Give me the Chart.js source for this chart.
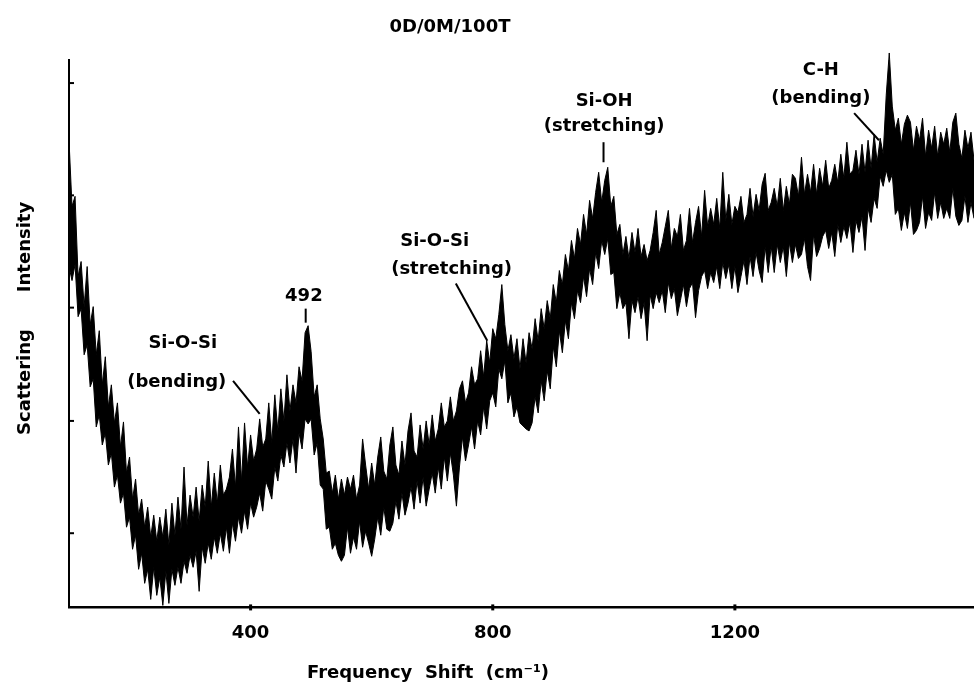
<!DOCTYPE html>
<html>
<head>
<meta charset="utf-8">
<script src="https://cdn.jsdelivr.net/npm/chart.js@4.4.1/dist/chart.umd.min.js"></script>
<style>
  html, body { margin: 0; padding: 0; background: #fff; }
  #contenedor { width: 974px; height: 691px; }
</style>
</head>
<body>
<div id="contenedor"><canvas id="espectro" width="974" height="691"></canvas></div>
<script>
// Espectro Raman de la muestra 0D/0M/100T
var desplazamientoInicio = 100; // cm-1
var pasoDesplazamiento = 5;     // cm-1 entre lecturas

// borde superior del ruido (unidades arbitrarias), una lectura cada 5 cm-1 desde 100
var maximo = [
  466, 400, 410, 330, 345, 300, 340, 282, 300, 252,
  276, 222, 250, 200, 222, 184, 204, 160, 185, 134,
  150, 108, 128, 92, 108, 80, 100, 70, 92, 66,
  90, 70, 98, 62, 104, 72, 110, 78, 140, 82,
  112, 90, 120, 86, 122, 100, 146, 100, 134, 104,
  142, 112, 118, 130, 158, 120, 180, 126, 184, 140,
  172, 146, 158, 188, 160, 168, 204, 164, 212, 176,
  218, 186, 232, 196, 222, 204, 240, 226, 274, 281,
  255, 210, 222, 188, 168, 134, 136, 114, 132, 108,
  128, 112, 130, 118, 132, 108, 122, 168, 142, 118,
  144, 122, 150, 170, 136, 128, 162, 180, 142, 132,
  166, 142, 176, 194, 156, 150, 182, 158, 186, 162,
  192, 166, 178, 204, 180, 186, 210, 186, 196, 218,
  226, 204, 214, 240, 222, 228, 256, 230, 266, 244,
  278, 268, 292, 322, 282, 256, 272, 248, 268, 238,
  268, 244, 274, 258, 288, 266, 298, 278, 306, 288,
  322, 304, 336, 322, 352, 336, 366, 348, 378, 362,
  392, 372, 406, 388, 414, 434, 404, 426, 439, 400,
  410, 372, 382, 352, 370, 348, 374, 354, 378, 350,
  362, 346, 356, 374, 396, 352, 364, 380, 396, 358,
  378, 370, 392, 356, 366, 398, 364, 384, 400, 370,
  416, 380, 398, 382, 408, 378, 434, 386, 412, 382,
  400, 394, 410, 384, 392, 418, 390, 412, 396, 422,
  433, 396, 404, 418, 400, 428, 396, 420, 402, 432,
  428, 410, 449, 412, 432, 414, 442, 412, 438, 420,
  446, 418, 426, 442, 424, 452, 428, 464, 432, 436,
  456, 432, 462, 434, 466, 438, 472, 444, 468, 452,
  511, 553, 500, 476, 488, 462, 482, 491, 484, 456,
  480, 466, 488, 450, 476, 458, 480, 450, 474, 462,
  478, 454, 484, 493, 462, 448, 476, 458, 474, 446
];

// borde inferior del ruido
var minimo = [
  340, 326, 342, 290, 298, 252, 262, 220, 228, 180,
  192, 162, 174, 142, 154, 120, 132, 104, 114, 80,
  90, 58, 72, 38, 54, 24, 38, 8, 40, 12,
  30, 2, 36, 4, 38, 22, 40, 24, 46, 34,
  52, 40, 56, 16, 60, 44, 64, 48, 70, 54,
  74, 56, 80, 54, 84, 66, 90, 74, 96, 78,
  104, 90, 100, 114, 96, 126, 118, 108, 140, 126,
  152, 140, 164, 144, 168, 134, 174, 158, 188, 183,
  188, 152, 164, 122, 118, 78, 80, 58, 64, 52,
  46, 52, 80, 54, 70, 58, 86, 60, 76, 64,
  51, 68, 90, 72, 100, 78, 76, 84, 106, 88,
  114, 92, 104, 120, 98, 126, 104, 130, 101, 118,
  134, 114, 140, 118, 150, 126, 154, 132, 101, 140,
  170, 146, 162, 180, 158, 186, 172, 200, 178, 206,
  214, 200, 238, 228, 246, 204, 214, 190, 200, 184,
  181, 178, 176, 184, 210, 194, 226, 206, 236, 218,
  260, 240, 276, 254, 286, 268, 304, 288, 316, 304,
  330, 310, 338, 322, 354, 338, 366, 352, 368, 332,
  334, 298, 314, 298, 304, 268, 306, 294, 310, 288,
  304, 266, 312, 298, 314, 304, 316, 294, 324, 308,
  318, 291, 306, 322, 300, 318, 324, 289, 316, 330,
  336, 318, 334, 324, 340, 318, 344, 328, 342, 318,
  340, 314, 330, 346, 322, 350, 330, 354, 336, 324,
  360, 334, 360, 334, 362, 344, 360, 330, 364, 344,
  362, 348, 352, 368, 340, 326, 372, 350, 358, 370,
  376, 358, 374, 350, 382, 364, 380, 368, 384, 354,
  386, 374, 390, 356, 398, 384, 408, 398, 430, 420,
  436, 424, 432, 392, 398, 376, 394, 378, 404, 372,
  376, 384, 410, 378, 394, 386, 414, 388, 404, 388,
  398, 388, 418, 390, 381, 386, 410, 384, 404, 388
];

var marcasX = [400, 800, 1200];
var marcasY = [74, 186, 299, 411, 523];

// rotulos de las bandas (x en cm-1, y en intensidad)
var notas = [
  { texto: 'Si-O-Si', x: 288, y: 263 },
  { texto: '(bending)', x: 278, y: 224 },
  { texto: '492', x: 488, y: 310 },
  { texto: 'Si-O-Si', x: 704, y: 365 },
  { texto: '(stretching)', x: 732, y: 337 },
  { texto: 'Si-OH', x: 984, y: 505 },
  { texto: '(stretching)', x: 984, y: 480 },
  { texto: 'C-H', x: 1342, y: 536 },
  { texto: '(bending)', x: 1342, y: 508 }
];

// lineas que señalan cada banda
var guias = [
  [371, 226, 415, 193],
  [491, 298, 491, 284],
  [739, 323, 791, 266],
  [983, 464, 983, 444],
  [1397, 493, 1438, 466]
];

function aPuntos(serie) {
  return serie.map(function (v, i) {
    return { x: desplazamientoInicio + i * pasoDesplazamiento, y: v };
  });
}

var fuente = '"DejaVu Sans", sans-serif';

var rotulos = {
  id: 'rotulos',
  afterDraw: function (chart) {
    var c = chart.ctx;
    var ex = chart.scales.x, ey = chart.scales.y;
    c.save();
    c.fillStyle = '#000';
    c.strokeStyle = '#000';

    // marcas cortas hacia dentro
    c.lineWidth = 2;
    ey.ticks.forEach(function (t) {
      var py = ey.getPixelForValue(t.value);
      c.beginPath(); c.moveTo(ex.left, py); c.lineTo(ex.left + 5, py); c.stroke();
    });
    c.lineWidth = 3;
    ex.ticks.forEach(function (t) {
      var px = ex.getPixelForValue(t.value);
      c.beginPath(); c.moveTo(px, ey.bottom - 3); c.lineTo(px, ey.bottom + 3); c.stroke();
    });

    // guias
    c.lineWidth = 2;
    guias.forEach(function (g) {
      c.beginPath();
      c.moveTo(ex.getPixelForValue(g[0]), ey.getPixelForValue(g[1]));
      c.lineTo(ex.getPixelForValue(g[2]), ey.getPixelForValue(g[3]));
      c.stroke();
    });

    c.font = 'bold 18px ' + fuente;
    c.textAlign = 'center';
    c.textBaseline = 'middle';
    notas.forEach(function (n) {
      c.fillText(n.texto, ex.getPixelForValue(n.x), ey.getPixelForValue(n.y));
    });

    // titulo y ejes
    c.fillText('0D/0M/100T', 450, 27);
    c.textAlign = 'left';
    c.fillText('Frequency  Shift  (cm\u207B\u00B9)', 307, 673);

    c.translate(25, 317);
    c.rotate(-Math.PI / 2);
    c.textAlign = 'center';
    c.fillText('Scattering', -65, 0);
    c.fillText('Intensity', 70, 0);
    c.restore();
  }
};

var ctx = document.getElementById('espectro').getContext('2d');

new Chart(ctx, {
  type: 'line',
  data: {
    datasets: [{
      data: aPuntos(maximo),
      borderColor: '#000',
      backgroundColor: '#000',
      borderWidth: 1,
      pointRadius: 0,
      tension: 0,
      fill: '+1',
      clip: false
    }, {
      data: aPuntos(minimo),
      borderColor: '#000',
      borderWidth: 1,
      pointRadius: 0,
      tension: 0,
      fill: false,
      clip: false
    }]
  },
  options: {
    responsive: false,
    animation: false,
    layout: { padding: { left: 69, top: 60, right: 0, bottom: 32 } },
    plugins: {
      legend: { display: false },
      tooltip: { enabled: false }
    },
    scales: {
      x: {
        type: 'linear',
        min: 100,
        max: 1595,
        afterBuildTicks: function (s) {
          s.ticks = marcasX.map(function (v) { return { value: v }; });
        },
        grid: { display: false, drawTicks: false },
        border: { display: true, color: '#000', width: 2.5 },
        ticks: {
          color: '#000',
          padding: 15,
          maxRotation: 0,
          autoSkip: false,
          callback: function (v) { return String(v); },
          font: { family: fuente, weight: 'bold', size: 18 }
        }
      },
      y: {
        min: 0,
        max: 546,
        afterBuildTicks: function (s) {
          s.ticks = marcasY.map(function (v) { return { value: v }; });
        },
        grid: { display: false, drawTicks: false },
        border: { display: true, color: '#000', width: 2 },
        ticks: { display: false }
      }
    }
  },
  plugins: [rotulos]
});
</script>
</body>
</html>
